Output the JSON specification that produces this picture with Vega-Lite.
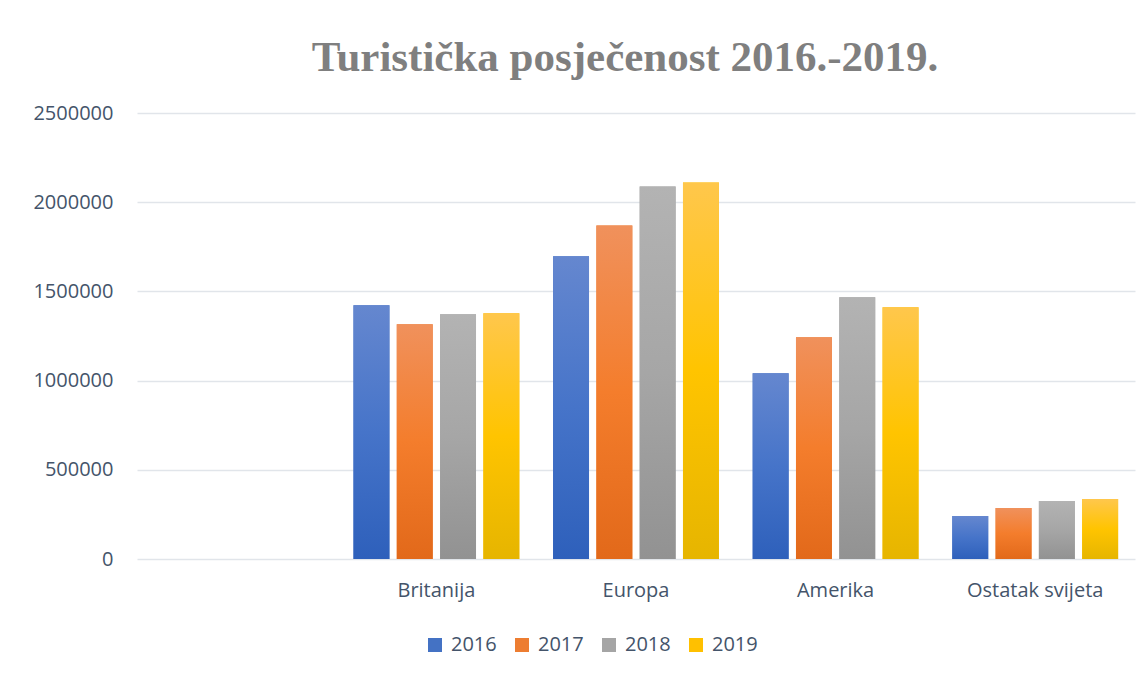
{
  "$schema": "https://vega.github.io/schema/vega-lite/v6.json",
  "autosize": "none",
  "width": 998,
  "height": 446,
  "padding": {"left": 137, "top": 113, "right": 13, "bottom": 118},
  "background": "#ffffff",
  "title": {
    "text": "Turistička posječenost 2016.-2019.",
    "font": "Liberation Serif",
    "fontSize": 43,
    "fontWeight": "bold",
    "color": "#7f7f7f",
    "anchor": "middle",
    "baseline": "alphabetic",
    "offset": -11,
    "dx": -11
  },
  "data": {
    "values": [
      {"region": "Britanija", "year": "2016", "visitors": 1422000},
      {"region": "Britanija", "year": "2017", "visitors": 1316000},
      {"region": "Britanija", "year": "2018", "visitors": 1372000},
      {"region": "Britanija", "year": "2019", "visitors": 1377000},
      {"region": "Europa", "year": "2016", "visitors": 1697000},
      {"region": "Europa", "year": "2017", "visitors": 1870000},
      {"region": "Europa", "year": "2018", "visitors": 2088000},
      {"region": "Europa", "year": "2019", "visitors": 2111000},
      {"region": "Amerika", "year": "2016", "visitors": 1041000},
      {"region": "Amerika", "year": "2017", "visitors": 1243000},
      {"region": "Amerika", "year": "2018", "visitors": 1467000},
      {"region": "Amerika", "year": "2019", "visitors": 1411000},
      {"region": "Ostatak svijeta", "year": "2016", "visitors": 241000},
      {"region": "Ostatak svijeta", "year": "2017", "visitors": 286000},
      {"region": "Ostatak svijeta", "year": "2018", "visitors": 325000},
      {"region": "Ostatak svijeta", "year": "2019", "visitors": 336000}
    ]
  },
  "encoding": {
    "x": {
      "field": "region",
      "type": "nominal",
      "scale": {"domain": ["", "Britanija", "Europa", "Amerika", "Ostatak svijeta"], "paddingInner": 0, "paddingOuter": 0},
      "axis": {
        "title": null,
        "labelAngle": 0,
        "ticks": false,
        "domain": false,
        "labelPadding": 21,
        "labelFont": "Open Sans",
        "labelFontSize": 20,
        "labelColor": "#44546a"
      }
    },
    "xOffset": {
      "field": "year",
      "type": "nominal",
      "sort": ["2016", "2017", "2018", "2019"],
      "scale": {"paddingInner": 0.17, "paddingOuter": 0.39}
    },
    "y": {
      "field": "visitors",
      "type": "quantitative",
      "scale": {"domain": [0, 2500000], "nice": false},
      "axis": {
        "title": null,
        "values": [0, 500000, 1000000, 1500000, 2000000, 2500000],
        "format": "d",
        "ticks": false,
        "domain": false,
        "labelPadding": 24,
        "labelFont": "Open Sans",
        "labelFontSize": 20,
        "labelColor": "#44546a",
        "gridColor": "#e1e5ea",
        "gridWidth": 1.6
      }
    }
  },
  "layer": [
    {
      "mark": {"type": "bar"},
      "encoding": {
        "color": {
          "field": "year",
          "type": "nominal",
          "scale": {"domain": ["2016", "2017", "2018", "2019"], "range": ["#4472c4", "#ed7d31", "#a5a5a5", "#ffc000"]},
          "legend": {
            "title": null,
            "orient": "none",
            "direction": "horizontal",
            "legendX": 288,
            "legendY": 522,
            "symbolType": "square",
            "symbolSize": 196,
            "symbolStrokeWidth": 0,
            "labelFont": "Open Sans",
            "labelFontSize": 20,
            "labelColor": "#44546a",
            "labelOffset": 6,
            "columnPadding": 15
          }
        }
      }
    },
    {
      "mark": {"type": "bar"},
      "encoding": {
        "fill": {
          "condition": [
            {"test": "datum.year === '2016'", "value": {"gradient": "linear", "x1": 0, "y1": 0, "x2": 0, "y2": 1, "stops": [{"offset": 0, "color": "#6587cf"}, {"offset": 0.5, "color": "#4674c9"}, {"offset": 1, "color": "#2e60bb"}]}},
            {"test": "datum.year === '2017'", "value": {"gradient": "linear", "x1": 0, "y1": 0, "x2": 0, "y2": 1, "stops": [{"offset": 0, "color": "#f0915c"}, {"offset": 0.5, "color": "#f47d2c"}, {"offset": 1, "color": "#e2691a"}]}},
            {"test": "datum.year === '2018'", "value": {"gradient": "linear", "x1": 0, "y1": 0, "x2": 0, "y2": 1, "stops": [{"offset": 0, "color": "#b3b3b3"}, {"offset": 0.5, "color": "#a6a6a6"}, {"offset": 1, "color": "#929292"}]}}
          ],
          "value": {"gradient": "linear", "x1": 0, "y1": 0, "x2": 0, "y2": 1, "stops": [{"offset": 0, "color": "#ffc74c"}, {"offset": 0.5, "color": "#ffc400"}, {"offset": 1, "color": "#e6b500"}]}
        }
      }
    }
  ],
  "config": {
    "view": {"stroke": null}
  }
}
